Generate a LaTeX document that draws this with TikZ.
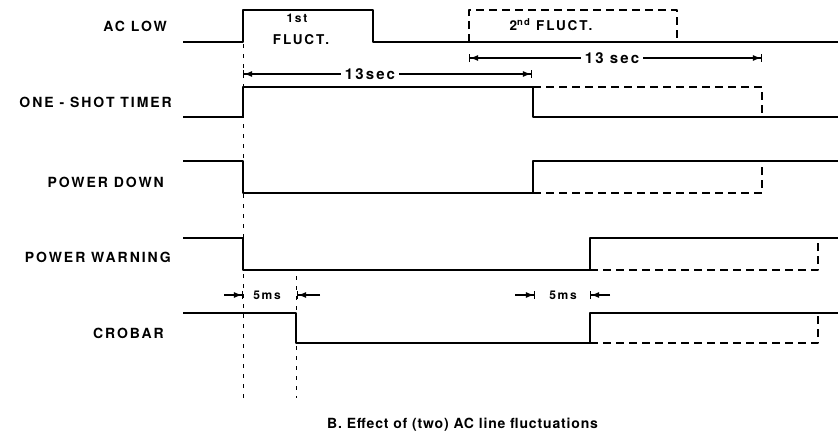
\documentclass[tikz,border=0pt]{standalone}
\usepackage{fontspec}
\setmainfont{TeX Gyre Heros}
\newfontfamily\lbl{TeX Gyre Heros}[LetterSpace=14]
\newfontfamily\caplbl{TeX Gyre Heros}[LetterSpace=6]
\usetikzlibrary{arrows.meta}
\tikzset{
  sig/.style={line width=1.8pt, line join=round},
  dsig/.style={sig, dash pattern=on 8pt off 5pt},
  guide/.style={line width=0.9pt, dash pattern=on 4pt off 6pt},
  dimline/.style={line width=1.1pt},
  dimtips/.style={dimline, {Bar[width=8pt]Latex[length=8pt,width=6pt]}-{Latex[length=8pt,width=6pt]Bar[width=8pt]}},
  tomark/.style={dimline, -{Latex[length=8pt,width=6pt]Bar[width=8pt]}},
  lab/.style={font=\lbl\bfseries\fontsize{14}{14}\selectfont, anchor=east, inner sep=0pt},
  txt/.style={font=\lbl\bfseries\fontsize{13.5}{13.5}\selectfont, inner sep=0pt},
  small/.style={font=\lbl\bfseries\fontsize{12}{12}\selectfont, inner sep=0pt},
  dimlab/.style={font=\lbl\bfseries\fontsize{15}{15}\selectfont, fill=white, inner xsep=4pt, inner ysep=1pt},
  captxt/.style={font=\caplbl\bfseries\fontsize{14}{14}\selectfont, inner sep=0pt},
}
\begin{document}
\begin{tikzpicture}[x=1pt,y=-1pt]
\useasboundingbox (0,0) rectangle (838,440);
% labels
\node[lab] (acl) at (167,26) {AC LOW};
\node[lab] (ost) at (172,102) {ONE - SHOT TIMER};
\node[lab] (pd) at (164,182) {POWER DOWN};
\node[lab] (pw) at (171,257) {POWER WARNING};
\node[lab] (cb) at (164,333) {CROBAR};
% guides
\draw[guide] (243,44) -- (243,398);
\draw[guide] (296,276) -- (296,398);
% AC LOW
\draw[sig] (183,42) -- (243,42) -- (243,10) -- (373,10) -- (373,42) -- (838,42);
\draw[dsig] (469,42) -- (469,10) -- (677,10) -- (677,42);
\node[small] (f1a) at (297,18) {1st};
\node[txt] (f1b) at (301,40) {FLUCT.};
\node[txt] (f2) at (551,25) {2\textsuperscript{nd} FLUCT.};
% ONE-SHOT
\draw[sig] (183,117) -- (243,117) -- (243,87) -- (533,87) -- (533,117) -- (838,117);
\draw[dsig] (533,87) -- (762,87) -- (762,117);
% POWER DOWN
\draw[sig] (183,161) -- (243,161) -- (243,193) -- (533,193) -- (533,161) -- (838,161);
\draw[dsig] (533,193) -- (762,193) -- (762,161);
% POWER WARNING
\draw[sig] (183,238) -- (243,238) -- (243,270) -- (590,270) -- (590,238) -- (838,238);
\draw[dsig] (590,270) -- (818,270) -- (818,238);
% CROBAR
\draw[sig] (183,313) -- (296,313) -- (296,343) -- (590,343) -- (590,313) -- (838,313);
\draw[dsig] (590,343) -- (818,343) -- (818,313);
% 13 sec dimensions
\coordinate (d1a) at (243,74);
\coordinate (d1b) at (532,74);
\draw[dimtips] (d1a) -- (d1b);
\node[dimlab] (t1) at (370,74) {13sec};
\coordinate (d2a) at (469,58);
\coordinate (d2b) at (762,58);
\draw[dimtips] (d2a) -- (d2b);
\node[dimlab] (t2) at (612,58) {13 sec};
% 5 ms markers
\coordinate (m1a) at (224,295); \coordinate (m1b) at (243,295);
\coordinate (m1c) at (320,295); \coordinate (m1d) at (297,295);
\draw[tomark] (m1a) -- (m1b);
\draw[tomark] (m1c) -- (m1d);
\node[small] (ms1) at (267,295) {5ms};
\coordinate (m2a) at (515,295); \coordinate (m2b) at (535,295);
\coordinate (m2c) at (610,295); \coordinate (m2d) at (590,295);
\draw[tomark] (m2a) -- (m2b);
\draw[tomark] (m2c) -- (m2d);
\node[small] (ms2) at (563,295) {5ms};
% caption
\node[captxt, anchor=west] (cap) at (327,425) {B. Effect of (two) AC line fluctuations};
\end{tikzpicture}
\end{document}
